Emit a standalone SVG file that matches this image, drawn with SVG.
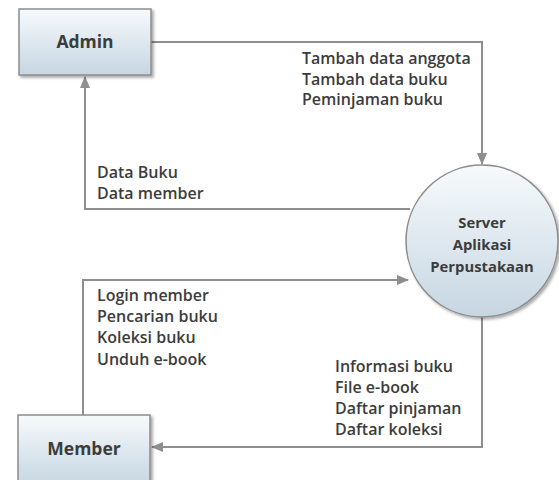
<svg xmlns="http://www.w3.org/2000/svg" width="559" height="480" viewBox="0 0 559 480">
<style>
.lbl{font-family:"Open Sans","Noto Sans","DejaVu Sans",sans-serif;font-weight:600;font-size:16px;fill:#3c3c3c}
.node{font-family:"Open Sans","Noto Sans","DejaVu Sans",sans-serif;font-weight:700;font-size:17.5px;fill:#3c3c3c}
.cnode{font-family:"Open Sans","Noto Sans","DejaVu Sans",sans-serif;font-weight:700;font-size:14.8px;fill:#3c3c3c}
.wire{fill:none;stroke:#8e8e8e;stroke-width:2}
.box{stroke:#8c8c8c;stroke-width:1.5}
</style>
<defs>
<linearGradient id="g" x1="0" y1="0" x2="0" y2="1">
<stop offset="0" stop-color="#f7fafc"/>
<stop offset="1" stop-color="#c6d6e2"/>
</linearGradient>
<filter id="sh" x="-10%" y="-10%" width="130%" height="130%">
<feGaussianBlur in="SourceAlpha" stdDeviation="1.5"/>
<feOffset dx="2" dy="2"/>
<feComponentTransfer><feFuncA type="linear" slope="0.35"/></feComponentTransfer>
<feMerge><feMergeNode/><feMergeNode in="SourceGraphic"/></feMerge>
</filter>
<marker id="arr" markerWidth="12" markerHeight="10" refX="11" refY="5" orient="auto" markerUnits="userSpaceOnUse">
<path d="M0,0 L12,5 L0,10 Z" fill="#8e8e8e"/>
</marker>
</defs>
<g id="connectors">
<polyline class="wire" points="151,42 482,42 482,164" marker-end="url(#arr)"/>
<polyline class="wire" points="410,209 85,209 85,77" marker-end="url(#arr)"/>
<polyline class="wire" points="83,415 83,280 408,280" marker-end="url(#arr)"/>
<polyline class="wire" points="482,317 482,447 152,447" marker-end="url(#arr)"/>
<text class="lbl" x="302" y="64">Tambah data anggota</text>
<text class="lbl" x="302" y="85">Tambah data buku</text>
<text class="lbl" x="302" y="105">Peminjaman buku</text>
<text class="lbl" x="97" y="178">Data Buku</text>
<text class="lbl" x="97" y="199">Data member</text>
<text class="lbl" x="97" y="301">Login member</text>
<text class="lbl" x="97" y="322">Pencarian buku</text>
<text class="lbl" x="97" y="343">Koleksi buku</text>
<text class="lbl" x="97" y="365">Unduh e-book</text>
<text class="lbl" x="335" y="372">Informasi buku</text>
<text class="lbl" x="335" y="393">File e-book</text>
<text class="lbl" x="335" y="414">Daftar pinjaman</text>
<text class="lbl" x="335" y="435">Daftar koleksi</text>
</g>
<g id="admin">
<rect class="box" x="19" y="9" width="132" height="66" fill="url(#g)" filter="url(#sh)"/>
<text class="node" x="85" y="48" text-anchor="middle">Admin</text>
</g>
<g id="server">
<circle class="box" cx="482" cy="241" r="76" fill="url(#g)" filter="url(#sh)"/>
<text class="cnode" x="482" y="228" text-anchor="middle">Server</text>
<text class="cnode" x="482" y="250" text-anchor="middle">Aplikasi</text>
<text class="cnode" x="482" y="272" text-anchor="middle">Perpustakaan</text>
</g>
<g id="member">
<rect class="box" x="18" y="415" width="132" height="70" fill="url(#g)" filter="url(#sh)"/>
<text class="node" x="84" y="455" text-anchor="middle">Member</text>
</g>
</svg>
